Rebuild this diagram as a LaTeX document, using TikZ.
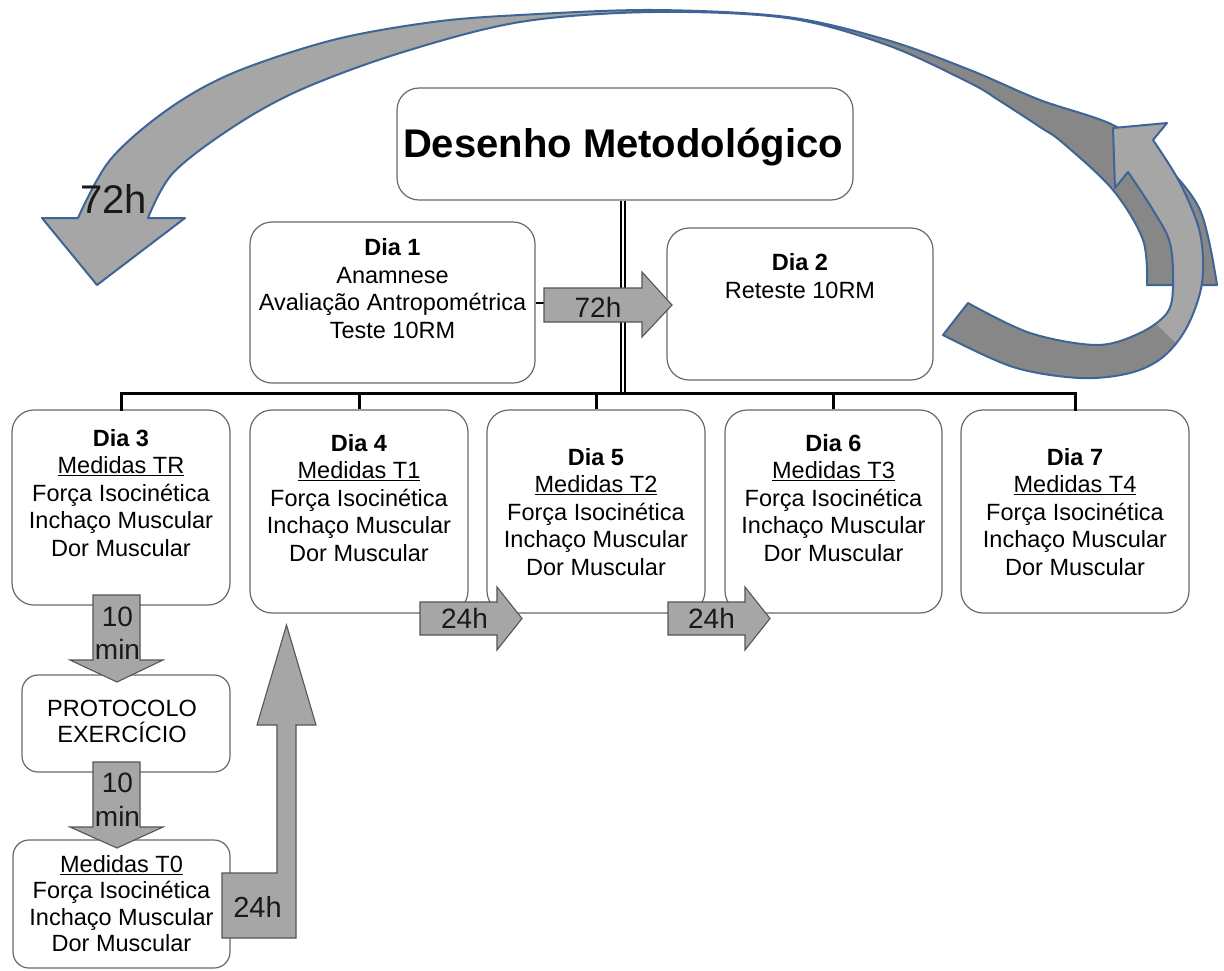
\documentclass[tikz,border=0pt]{standalone}
\usepackage{fontspec}
\setmainfont{Liberation Sans}
\definecolor{boxline}{RGB}{105,105,105}
\definecolor{arrfill}{RGB}{166,166,166}
\definecolor{arrdark}{RGB}{135,135,135}
\definecolor{arrline}{RGB}{85,85,85}
\definecolor{curveline}{RGB}{62,100,152}
\tikzset{
  box/.style={draw=boxline, line width=1.2pt, rounded corners=22pt, fill=white, inner sep=0pt},
  smallbox/.style={box, rounded corners=16pt},
  txt/.style={font=\fontsize{23.5}{27.5}\selectfont, align=center, inner sep=0pt, text=black},
  lbl/.style={font=\fontsize{28}{33}\selectfont, align=center, inner sep=0pt, text=black!90},
  blockarr/.style={fill=arrfill, draw=arrline, line width=1.1pt, line join=miter},
  bus/.style={draw=black, line width=3pt},
  conn/.style={draw=black, line width=2pt},
  curvefill/.style={fill=arrdark},
  curveedge/.style={draw=curveline, line width=2pt, line join=round}
}
\begin{document}
\begin{tikzpicture}[x=1pt,y=-1pt]
\useasboundingbox (0,0) rectangle (1224,970);

% ---------- big curved arrow over the top ----------
\path[save path=\toppath] (1217,285) -- plot[smooth, tension=0.55] coordinates {(1217,285) (1200,210) (1160,160) (1113,125) (1040,100) (970,70) (887,40) (787,17) (653,10) (520,15) (433,22) (333,40) (233,73) (167,110) (110,160) (78,218)} -- (42,218) -- (97,285) -- (185,218) -- (148,218) -- plot[smooth, tension=0.55] coordinates {(148,218) (173,173) (233,127) (300,90) (400,53) (520,22) (653,12) (787,18) (887,45) (970,83) (1000,101) (1040,127) (1063,143) (1113,190) (1143,240) (1147,285)} -- cycle;
\fill[arrdark, use path=\toppath];
\begin{scope}
  \clip (0,0) rectangle (660,400);
  \fill[arrfill, use path=\toppath];
\end{scope}
\draw[curveedge, use path=\toppath];

% ---------- curved arrow on the right ----------
\path[save path=\rightpath] (943,335) -- plot[smooth, tension=0.55] coordinates {(943,335) (1013,367) (1080,378) (1130,373) (1163,357) (1187,327) (1202,283) (1200,233) (1180,183) (1153,140)} -- (1167,123) -- (1113,128) -- (1115,188) -- (1128,172) -- plot[smooth, tension=0.55] coordinates {(1128,172) (1153,210) (1170,243) (1173,287) (1167,313) (1140,333) (1097,345) (1030,333) (968,303)} -- cycle;
\fill[arrdark, use path=\rightpath];
\begin{scope}
  \clip (1090,90) -- (1230,90) -- (1230,390) -- (1215,382) -- (1130,298) -- (1090,260) -- cycle;
  \fill[arrfill, use path=\rightpath];
\end{scope}
\draw[curveedge, use path=\rightpath];

\node[font=\fontsize{40}{48}\selectfont, inner sep=0pt, anchor=base, text=black!90] (l72top) at (113.5,213) {72h};

% ---------- boxes ----------
\node[box, minimum width=456pt, minimum height=112pt] (title) at (625,144) {};
\node[box, minimum width=285pt, minimum height=161pt] (d1) at (392.5,302.5) {};
\node[box, minimum width=266pt, minimum height=152pt] (d2) at (800,304) {};

\coordinate (trunkbot) at (622.5,393);

% connectors
\draw[conn, double=white, double distance=2pt, line width=2pt] (title.south -| trunkbot) -- (trunkbot);
\draw[conn] (d1.east) -- (d1.east -| trunkbot);
\draw[conn] (d2.west) -- (d2.west -| trunkbot);

\node[box, minimum width=218pt, minimum height=195pt] (d3) at (121,507.5) {};
\node[box, minimum width=218pt, minimum height=203pt] (d4) at (359,511.5) {};
\node[box, minimum width=218pt, minimum height=203pt] (d5) at (596,511.5) {};
\node[box, minimum width=217pt, minimum height=203pt] (d6) at (833.5,511.5) {};
\node[box, minimum width=228pt, minimum height=203pt] (d7) at (1075,511.5) {};
\node[smallbox, minimum width=208pt, minimum height=97pt] (prot) at (126,723.5) {};
\node[smallbox, minimum width=217pt, minimum height=128pt] (t0) at (121.5,904) {};

\draw[bus, line cap=rect] (d3.north) -- (d3.north |- trunkbot) -- (d7.north |- trunkbot) -- (d7.north);
\draw[bus] (d4.north) -- (d4.north |- trunkbot);
\draw[bus] (d5.north) -- (d5.north |- trunkbot);
\draw[bus] (d6.north) -- (d6.north |- trunkbot);

% ---------- block arrows ----------
\draw[blockarr] (544,288) -- (642,288) -- (642,272) -- (672,305) -- (642,337) -- (642,322) -- (544,322) -- cycle;
\node[lbl, anchor=base] (l72) at (598,317) {72h};

\draw[blockarr] (420,602) -- (497,602) -- (497,587) -- (522,618.5) -- (497,650) -- (497,635) -- (420,635) -- cycle;
\node[lbl, anchor=base] (l24a) at (464.5,628) {24h};
\draw[blockarr] (668,602) -- (745,602) -- (745,587) -- (770,618.5) -- (745,650) -- (745,635) -- (668,635) -- cycle;
\node[lbl, anchor=base] (l24b) at (711.5,628) {24h};

\draw[blockarr] (93,595) -- (140,595) -- (140,660) -- (163,660) -- (117,682) -- (70,660) -- (93,660) -- cycle;
\node[lbl, anchor=south] (l10a) at (117.5,660) {10\\min};
\draw[blockarr] (93,762) -- (140,762) -- (140,827) -- (163,827) -- (117,848) -- (70,827) -- (93,827) -- cycle;
\node[lbl, anchor=south, font=\fontsize{28}{34}\selectfont] (l10b) at (117.5,827) {10\\min};

\draw[blockarr] (222,873) -- (277,873) -- (277,725) -- (257,725) -- (286.5,625) -- (316,725) -- (296,725) -- (296,938) -- (222,938) -- cycle;
\node[lbl, anchor=base, font=\fontsize{29}{34}\selectfont] (l24c) at (257.5,917) {24h};

% ---------- texts ----------
\node[font=\fontsize{40}{48}\selectfont\bfseries, inner sep=0pt, anchor=base] (ttl) at (623,157) {Desenho Metodológico};
\node[txt, anchor=south] (t1) at (392.5,338.5) {\textbf{Dia 1}\\Anamnese\\Avaliação Antropométrica\\Teste 10RM};
\node[txt, anchor=south] (t2) at (800,298.5) {\textbf{Dia 2}\\Reteste 10RM};
\node[txt, anchor=south] (t3) at (121,556.5) {\textbf{Dia 3}\\\underline{Medidas TR}\\Força Isocinética\\Inchaço Muscular\\Dor Muscular};
\node[txt, anchor=south] (t4) at (359,561.5) {\textbf{Dia 4}\\\underline{Medidas T1}\\Força Isocinética\\Inchaço Muscular\\Dor Muscular};
\node[txt, anchor=south] (t5) at (596,575.5) {\textbf{Dia 5}\\\underline{Medidas T2}\\Força Isocinética\\Inchaço Muscular\\Dor Muscular};
\node[txt, anchor=south] (t6) at (833.5,561.5) {\textbf{Dia 6}\\\underline{Medidas T3}\\Força Isocinética\\Inchaço Muscular\\Dor Muscular};
\node[txt, anchor=south] (t7) at (1075,575.5) {\textbf{Dia 7}\\\underline{Medidas T4}\\Força Isocinética\\Inchaço Muscular\\Dor Muscular};
\node[txt, anchor=south, font=\fontsize{23.5}{26}\selectfont] (tp) at (122,743) {PROTOCOLO\\EXERCÍCIO};
\node[txt, anchor=south, font=\fontsize{23.5}{26.3}\selectfont] (tt0) at (121.5,952) {\underline{Medidas T0}\\Força Isocinética\\Inchaço Muscular\\Dor Muscular};
\end{tikzpicture}
\end{document}
